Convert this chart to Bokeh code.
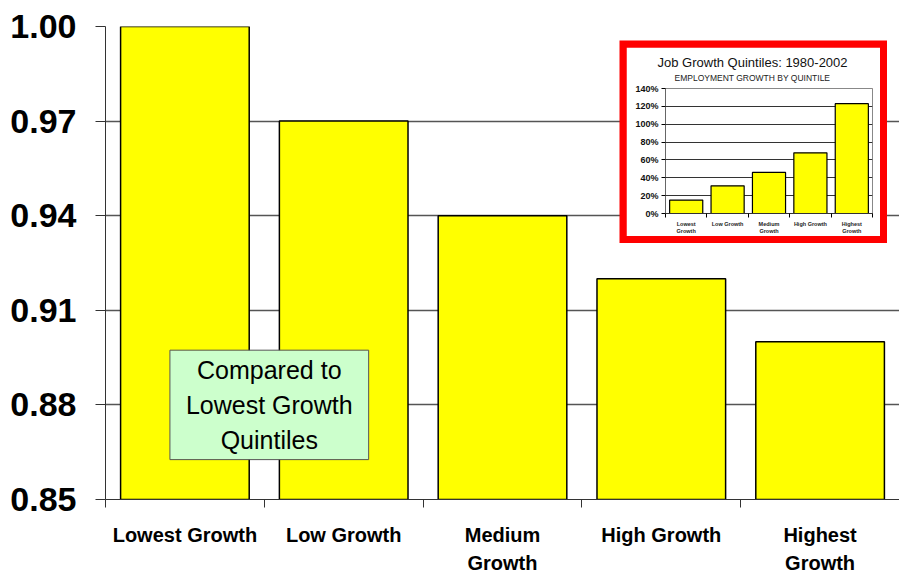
from bokeh.plotting import figure
from bokeh.layouts import column
from bokeh.models import (Range1d, FixedTicker, NumeralTickFormatter, PrintfTickFormatter,
                          Label, Title)
from bokeh.embed import file_html
from bokeh.resources import INLINE

# ---------------- data ----------------
categories = ["Lowest Growth", "Low Growth", "Medium\nGrowth", "High Growth", "Highest\nGrowth"]
relative_values = [1.00, 0.97, 0.94, 0.92, 0.90]
y_ticks = [0.85, 0.88, 0.91, 0.94, 0.97, 1.00]
note_text = "Compared to\nLowest Growth\nQuintiles"

inset_categories = ["Lowest\nGrowth", "Low Growth", "Medium\nGrowth", "High Growth", "Highest\nGrowth"]
inset_values = [15, 31, 46, 68, 123]
inset_ticks = [0, 20, 40, 60, 80, 100, 120, 140]
inset_title = "Job Growth Quintiles: 1980-2002"
inset_subtitle = "EMPLOYMENT GROWTH BY QUINTILE"

FONT = "Liberation Sans"


def slots(names):
    """centre and edge positions of categorical slots (slot i spans [i, i+1])"""
    centres = [i + 0.5 for i in range(len(names))]
    edges = list(range(len(names) + 1))
    return centres, edges


# ---------------- main chart ----------------
MAIN_H = 580
centres, edges = slots(categories)
p = figure(width=899, height=MAIN_H, x_range=Range1d(edges[0], edges[-1]),
           y_range=Range1d(y_ticks[0], y_ticks[-1]), title=None,
           output_backend="svg", toolbar_location=None, frame_align=False,
           min_border_left=105, min_border_right=0, min_border_top=26, min_border_bottom=81)
p.outline_line_color = None
p.xgrid.visible = False

p.vbar(x=centres, top=relative_values, bottom=y_ticks[0], width=0.81,
       fill_color="#FFFF00", line_color="black", line_width=1.5)

p.yaxis.ticker = FixedTicker(ticks=y_ticks)
p.yaxis.formatter = NumeralTickFormatter(format="0.00")
p.yaxis.major_label_text_font = FONT
p.yaxis.major_label_text_font_style = "bold"
p.yaxis.major_label_text_font_size = "34px"
p.yaxis.major_label_text_color = "black"
p.yaxis.major_tick_in = 0
p.yaxis.major_tick_out = 10
p.yaxis.minor_tick_line_color = None
p.yaxis.major_label_standoff = 19
p.yaxis.axis_line_color = "#333333"
p.yaxis.major_tick_line_color = "#333333"
p.ygrid.ticker = FixedTicker(ticks=y_ticks)
p.ygrid.grid_line_color = "#555555"
p.ygrid.grid_line_width = 1.5

p.xaxis.ticker = FixedTicker(ticks=centres, minor_ticks=edges)
p.xaxis.major_label_overrides = {c: name for c, name in zip(centres, categories)}
p.xaxis.major_tick_line_color = None
p.xaxis.minor_tick_in = 0
p.xaxis.minor_tick_out = 8
p.xaxis.minor_tick_line_color = "#333333"
p.xaxis.axis_line_color = "#333333"
p.xaxis.major_label_text_font = FONT
p.xaxis.major_label_text_font_style = "bold"
p.xaxis.major_label_text_font_size = "20px"
p.xaxis.major_label_text_color = "black"
p.xaxis.major_label_text_line_height = 1.3
p.xaxis.major_label_standoff = 16

note = Label(x=edges[1], x_offset=5, y=0.88, text=note_text,
             text_align="center", text_baseline="middle", text_font=FONT,
             text_font_size="25px", text_color="black", text_line_height=1.24,
             background_fill_color="#CCFFCC", border_line_color="#555555",
             border_line_width=1, padding=(16, 6))
p.add_layout(note)

# ---------------- red frame behind inset ----------------
RED_TOP, RED_LEFT, RED_W, RED_H = 40, 619, 268, 203
red = figure(width=RED_W, height=RED_H, output_backend="svg", toolbar_location=None, title=None,
             x_axis_location=None, y_axis_location=None, min_border=0, frame_align=False,
             background_fill_color="#FF0000", border_fill_color="#FF0000", outline_line_color=None)
red.grid.visible = False
red.margin = (RED_TOP - MAIN_H, 0, 0, RED_LEFT)

# ---------------- inset chart ----------------
INSET_TOP, INSET_LEFT = 47, 626
icentres, iedges = slots(inset_categories)
inset = figure(width=254, height=189, x_range=Range1d(iedges[0], iedges[-1]),
               y_range=Range1d(inset_ticks[0], inset_ticks[-1]),
               output_backend="svg", toolbar_location=None, title=None, frame_align=False,
               min_border_left=39, min_border_right=8, min_border_top=41, min_border_bottom=20)
inset.margin = (INSET_TOP - (RED_TOP + RED_H), 0, 0, INSET_LEFT)
inset.xgrid.visible = False
inset.outline_line_color = "#888888"
inset.vbar(x=icentres, top=inset_values, width=0.8,
           fill_color="#FFFF00", line_color="black", line_width=1.2)

inset.add_layout(Title(text=inset_subtitle, align="left", offset=9, text_font=FONT,
                       text_font_size="8.5px", text_font_style="normal", text_color="#222222",
                       standoff=11), "above")
inset.add_layout(Title(text=inset_title, align="left", offset=-8, text_font=FONT,
                       text_font_size="13px", text_font_style="normal", text_color="#111111",
                       standoff=-8), "above")

inset.yaxis.ticker = FixedTicker(ticks=inset_ticks)
inset.yaxis.formatter = PrintfTickFormatter(format="%d%%")
inset.yaxis.major_label_text_font = FONT
inset.yaxis.major_label_text_font_style = "bold"
inset.yaxis.major_label_text_font_size = "9px"
inset.yaxis.major_label_text_color = "#111111"
inset.yaxis.major_tick_in = 0
inset.yaxis.major_tick_out = 4
inset.yaxis.minor_tick_line_color = None
inset.yaxis.major_label_standoff = 3
inset.yaxis.axis_line_color = "#666666"
inset.ygrid.ticker = FixedTicker(ticks=inset_ticks)
inset.ygrid.grid_line_color = "#333333"
inset.ygrid.grid_line_width = 1

inset.xaxis.ticker = FixedTicker(ticks=icentres, minor_ticks=iedges)
inset.xaxis.major_label_overrides = {c: name for c, name in zip(icentres, inset_categories)}
inset.xaxis.major_tick_line_color = None
inset.xaxis.minor_tick_in = 0
inset.xaxis.minor_tick_out = 4
inset.xaxis.axis_line_color = "#333333"
inset.xaxis.major_label_text_font = FONT
inset.xaxis.major_label_text_font_style = "bold"
inset.xaxis.major_label_text_font_size = "5.5px"
inset.xaxis.major_label_text_color = "#222222"
inset.xaxis.major_label_text_line_height = 1.2
inset.xaxis.major_label_standoff = 1

layout = column(p, red, inset, spacing=0)

open("out.html", "w").write(file_html(layout, INLINE))
